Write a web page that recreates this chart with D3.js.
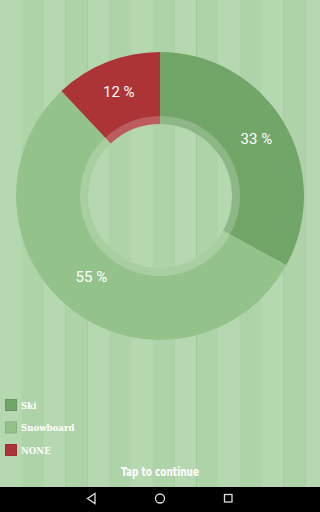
<!DOCTYPE html>
<html>
<head>
  <meta charset="utf-8">
  <style>
    body { margin: 0; background: #000; }
    svg { display: block; }
    .slice-label { fill: #fff; font-family: Roboto, "Noto Sans", sans-serif; font-size: 15px; }
    .legend text { fill: #fff; font-family: "DejaVu Serif", serif; font-weight: bold; font-size: 8.6px; }
    .tap { fill: #fff; font-family: "DejaVu Sans", sans-serif; font-weight: bold; font-size: 13px; }
  </style>
  <script src="https://d3js.org/d3.v7.min.js"></script>
</head>
<body>
  <div id="chart"></div>
  <script>
    // chart values
    var categories = ["Ski", "Snowboard", "NONE"];
    var values = [33, 55, 12];
    var colors = ["#71a668", "#94c28b", "#ad3436"];
    var labels = ["33 %", "55 %", "12 %"];

    var width = 320, height = 512;
    var navH = 25;
    var cx = 160, cy = 196;
    var outerR = 144, innerR = 72, ringR = 80;

    var svg = d3.select("#chart").append("svg")
      .attr("width", width)
      .attr("height", height);

    // striped background
    var stripeW = 21.8;
    svg.selectAll(".stripe")
      .data(d3.range(Math.ceil(width / stripeW)))
      .enter().append("rect")
      .attr("class", "stripe")
      .attr("x", function(i) { return i * stripeW; })
      .attr("y", 0)
      .attr("width", stripeW + 0.5)
      .attr("height", height - navH)
      .attr("fill", function(i) { return i % 2 == 0 ? "#b6d8b0" : "#afd3a8"; });

    var pie = d3.pie().sort(null).value(function(d) { return d; });
    var arc = d3.arc().innerRadius(innerR).outerRadius(outerR);
    var labelArc = d3.arc().innerRadius(112).outerRadius(112);

    var g = svg.append("g")
      .attr("transform", "translate(" + cx + "," + cy + ")");

    var arcs = pie(values);

    g.selectAll("path.slice")
      .data(arcs)
      .enter().append("path")
      .attr("class", "slice")
      .attr("d", arc)
      .attr("fill", function(d, i) { return colors[i]; });

    // translucent inner ring over the slices
    g.append("path")
      .attr("d", d3.arc().innerRadius(innerR).outerRadius(ringR)({ startAngle: 0, endAngle: 2 * Math.PI }))
      .attr("fill", "#ffffff")
      .attr("fill-opacity", 0.2);

    g.selectAll("text.slice-label")
      .data(arcs)
      .enter().append("text")
      .attr("class", "slice-label")
      .attr("text-anchor", "middle")
      .attr("dy", "0.35em")
      .attr("transform", function(d, i) {
        var c = labelArc.centroid(d);
        if (i == 1) c[1] -= 8;
        return "translate(" + c[0] + "," + c[1] + ")";
      })
      .text(function(d, i) { return labels[i]; });

    // legend
    var legend = svg.append("g").attr("class", "legend")
      .attr("transform", "translate(5,399)");

    var item = legend.selectAll("g")
      .data(categories)
      .enter().append("g")
      .attr("transform", function(d, i) { return "translate(0," + (i * 22.5) + ")"; });

    item.append("rect")
      .attr("x", 0.5).attr("y", 0.5)
      .attr("width", 11).attr("height", 11)
      .attr("fill", function(d, i) { return colors[i]; })
      .attr("stroke", function(d, i) { return d3.color(colors[i]).darker(0.3); })
      .attr("stroke-width", 1);

    item.append("text")
      .attr("x", 16)
      .attr("y", 9.5)
      .text(function(d) { return d; });

    // condensed caption, squeezed to the reference width
    svg.append("text")
      .attr("class", "tap")
      .attr("x", 121)
      .attr("y", 476)
      .attr("textLength", 78)
      .attr("lengthAdjust", "spacingAndGlyphs")
      .text("Tap to continue");

    // navigation bar
    var nav = svg.append("g").attr("transform", "translate(0," + (height - navH) + ")");
    nav.append("rect").attr("width", width).attr("height", navH).attr("fill", "#000");
    nav.append("path")
      .attr("d", "M95,6.5 L87.5,11.5 L95,16.5 Z")
      .attr("fill", "none").attr("stroke", "#ddd").attr("stroke-width", 1.3);
    nav.append("circle")
      .attr("cx", 160).attr("cy", 11.5).attr("r", 4.5)
      .attr("fill", "none").attr("stroke", "#ddd").attr("stroke-width", 1.3);
    nav.append("rect")
      .attr("x", 224.5).attr("y", 7.5).attr("width", 7.5).attr("height", 7.5)
      .attr("fill", "none").attr("stroke", "#ddd").attr("stroke-width", 1.3);
  </script>
</body>
</html>
